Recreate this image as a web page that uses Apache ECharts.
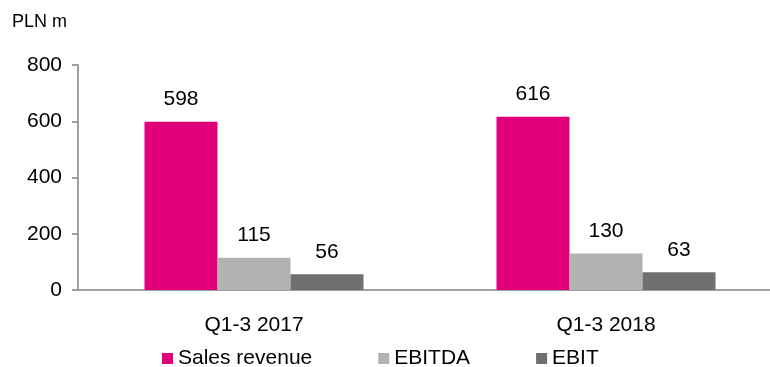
<!DOCTYPE html>
<html><head><meta charset="utf-8">
<script src="https://cdn.jsdelivr.net/npm/echarts@6/dist/echarts.min.js"></script>
<style>html,body{margin:0;padding:0;background:#fff;overflow:hidden;width:770px;height:367px}#c{width:782px;height:367px}</style>
</head><body><div id="c"></div>
<script>
const categories = ['Q1-3 2017', 'Q1-3 2018'];
const salesRevenue = [598, 616];
const ebitda = [115, 130];
const ebit = [56, 63];
const yTicks = [0, 200, 400, 600, 800];
const seriesNames = ['Sales revenue', 'EBITDA', 'EBIT'];
const colors = ['#E2007A', '#B2B2B2', '#707070'];

const chart = echarts.init(document.getElementById('c'));
const font = 'Liberation Sans, Arial, sans-serif';
const fs = 21;
const lbl = {show: true, position: 'top', distance: 12, color: '#000', fontSize: fs, fontFamily: font};
chart.setOption({
  animation: false,
  textStyle: {fontFamily: font},
  graphic: [{type: 'text', left: 12, top: 13, style: {text: 'PLN m', fontSize: 18, fontFamily: font, fill: '#000'}}],
  grid: {left: 78, top: 65, right: 0, bottom: 77},
  legend: {
    top: 343, left: 157, itemWidth: 11, itemHeight: 11, itemGap: 66,
    icon: 'rect',
    textStyle: {fontSize: fs, fontFamily: font, color: '#000'},
    data: seriesNames
  },
  xAxis: {
    type: 'category', data: categories,
    axisLine: {lineStyle: {color: '#A0A0A0', width: 2}},
    axisTick: {show: false},
    axisLabel: {color: '#000', fontSize: fs, fontFamily: font, margin: 25}
  },
  yAxis: {
    type: 'value', min: yTicks[0], max: yTicks[yTicks.length - 1], interval: 200,
    axisLine: {show: true, lineStyle: {color: '#A0A0A0', width: 2}},
    axisTick: {show: true, length: 6, lineStyle: {color: '#A0A0A0', width: 2}},
    splitLine: {show: false},
    axisLabel: {color: '#000', fontSize: fs, fontFamily: font, margin: 16}
  },
  series: [
    {name: seriesNames[0], type: 'bar', data: salesRevenue, barWidth: 73, barGap: '0%', itemStyle: {color: colors[0]}, label: lbl},
    {name: seriesNames[1], type: 'bar', data: ebitda, barWidth: 73, barGap: '0%', itemStyle: {color: colors[1]}, label: lbl},
    {name: seriesNames[2], type: 'bar', data: ebit, barWidth: 73, barGap: '0%', itemStyle: {color: colors[2]}, label: lbl}
  ]
});
</script></body></html>
